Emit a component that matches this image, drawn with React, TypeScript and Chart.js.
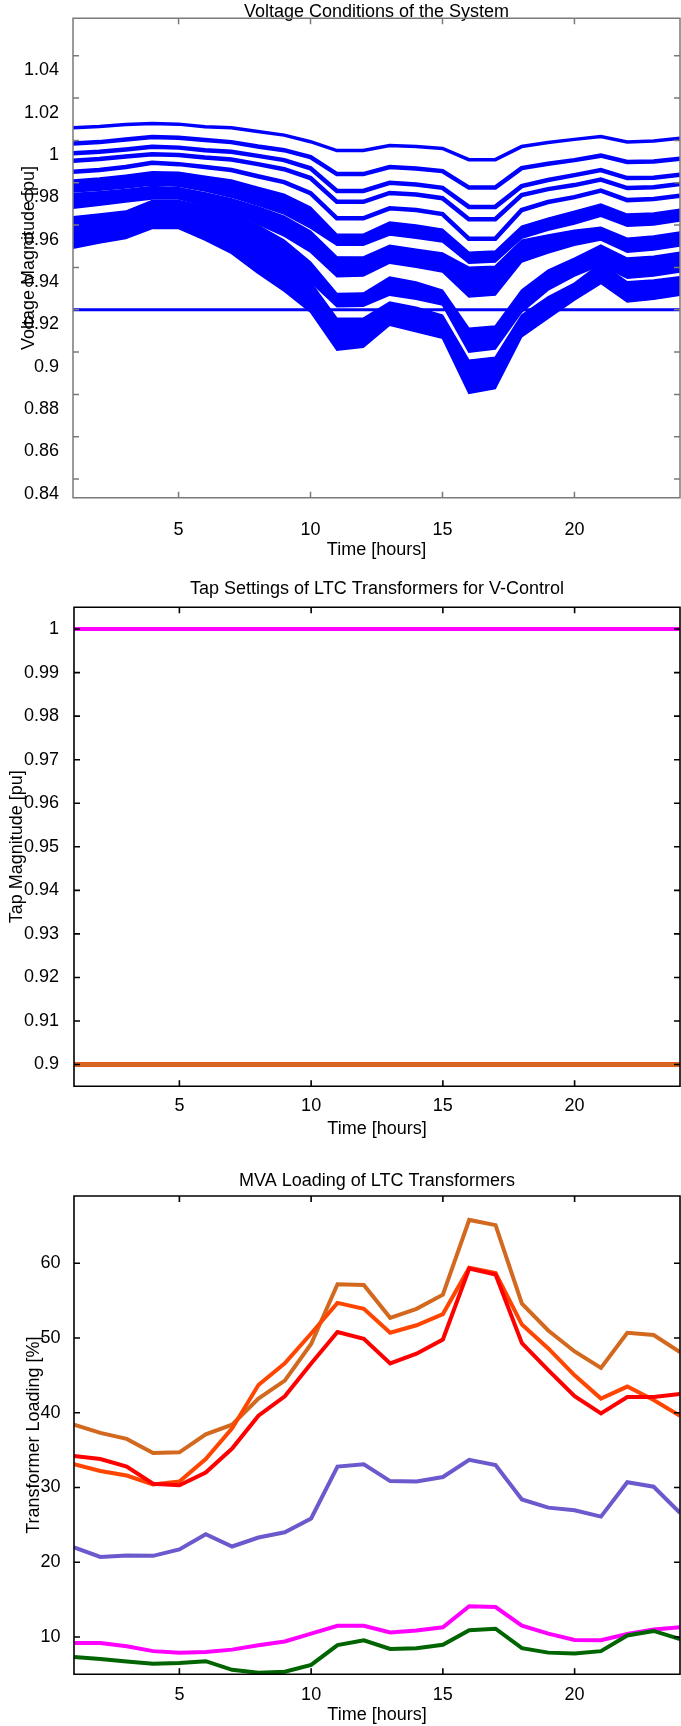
import React, { useEffect, useRef } from 'react';
import { Chart, registerables } from 'chart.js';

Chart.register(...registerables);

const FONT_FAMILY = "'Liberation Sans', Arial, Helvetica, sans-serif";

// ---------- shared axis data ----------
const HOURS = [1, 2, 3, 4, 5, 6, 7, 8, 9, 10, 11, 12, 13, 14, 15, 16, 17, 18, 19, 20, 21, 22, 23, 24];
const HOUR_TICKS = [5, 10, 15, 20];
const VOLTAGE_TICKS = [0.84, 0.86, 0.88, 0.9, 0.92, 0.94, 0.96, 0.98, 1, 1.02, 1.04];
const TAP_TICKS = [0.9, 0.91, 0.92, 0.93, 0.94, 0.95, 0.96, 0.97, 0.98, 0.99, 1];
const LOADING_TICKS = [10, 20, 30, 40, 50, 60];

// ---------- chart 1: bus voltages [pu] ----------
const voltageLimit = [0.92, 0.92, 0.92, 0.92, 0.92, 0.92, 0.92, 0.92, 0.92, 0.92, 0.92, 0.92, 0.92, 0.92, 0.92, 0.92, 0.92, 0.92, 0.92, 0.92, 0.92, 0.92, 0.92, 0.92];
const busLine1 = [1.0060, 1.0066, 1.0075, 1.0080, 1.0077, 1.0065, 1.0060, 1.0042, 1.0025, 0.9994, 0.9952, 0.9952, 0.9976, 0.9971, 0.9962, 0.9909, 0.9909, 0.9971, 0.9990, 1.0005, 1.0018, 0.9993, 0.9997, 1.0010];
const busLine2 = [0.9986, 0.9992, 1.0004, 1.0016, 1.0013, 1.0002, 0.9992, 0.9971, 0.9954, 0.9921, 0.9841, 0.9841, 0.9874, 0.9867, 0.9855, 0.9777, 0.9777, 0.9869, 0.9890, 0.9907, 0.9928, 0.9898, 0.9900, 0.9914];
const busLine3 = [0.9939, 0.9946, 0.9957, 0.9970, 0.9966, 0.9954, 0.9946, 0.9927, 0.9907, 0.9868, 0.9761, 0.9761, 0.9800, 0.9792, 0.9776, 0.9686, 0.9686, 0.9784, 0.9813, 0.9836, 0.9860, 0.9822, 0.9824, 0.9838];
const busLine4 = [0.9904, 0.9912, 0.9924, 0.9935, 0.9931, 0.9919, 0.9910, 0.9888, 0.9864, 0.9822, 0.9710, 0.9710, 0.9752, 0.9744, 0.9727, 0.9628, 0.9628, 0.9742, 0.9770, 0.9789, 0.9815, 0.9775, 0.9779, 0.9794];
const busLine5 = [0.9852, 0.9860, 0.9874, 0.9894, 0.9888, 0.9874, 0.9860, 0.9831, 0.9803, 0.9751, 0.9632, 0.9632, 0.9679, 0.9671, 0.9652, 0.9535, 0.9535, 0.9671, 0.9709, 0.9732, 0.9763, 0.9718, 0.9723, 0.9739];
// dense bus groups: upper and lower envelopes
const groupA1Top = [0.9813, 0.9822, 0.9836, 0.9852, 0.9850, 0.9831, 0.9813, 0.9779, 0.9746, 0.9685, 0.9557, 0.9557, 0.9614, 0.9600, 0.9581, 0.9472, 0.9477, 0.9595, 0.9633, 0.9666, 0.9699, 0.9652, 0.9657, 0.9675];
const groupA1Bottom = [0.9756, 0.9765, 0.9775, 0.9789, 0.9784, 0.9761, 0.9732, 0.9694, 0.9652, 0.9586, 0.9505, 0.9505, 0.9553, 0.9538, 0.9520, 0.9420, 0.9425, 0.9538, 0.9576, 0.9605, 0.9642, 0.9595, 0.9600, 0.9619];
const groupA2Top = [0.9749, 0.9758, 0.9768, 0.9782, 0.9777, 0.9753, 0.9725, 0.9687, 0.9642, 0.9572, 0.9450, 0.9449, 0.9505, 0.9486, 0.9468, 0.9401, 0.9406, 0.9529, 0.9553, 0.9576, 0.9590, 0.9538, 0.9548, 0.9567];
const groupA2Bottom = [0.9680, 0.9694, 0.9709, 0.9723, 0.9723, 0.9694, 0.9657, 0.9605, 0.9548, 0.9472, 0.9356, 0.9359, 0.9420, 0.9401, 0.9378, 0.9260, 0.9269, 0.9425, 0.9468, 0.9505, 0.9529, 0.9472, 0.9482, 0.9501];
const groupB1Top = [0.9639, 0.9652, 0.9666, 0.9716, 0.9716, 0.9690, 0.9652, 0.9600, 0.9529, 0.9425, 0.9277, 0.9279, 0.9354, 0.9331, 0.9293, 0.9113, 0.9123, 0.9293, 0.9387, 0.9444, 0.9505, 0.9444, 0.9453, 0.9472];
const groupB1Bottom = [0.9567, 0.9581, 0.9595, 0.9642, 0.9647, 0.9600, 0.9548, 0.9482, 0.9425, 0.9331, 0.9214, 0.9217, 0.9269, 0.9250, 0.9222, 0.9000, 0.9014, 0.9189, 0.9293, 0.9359, 0.9411, 0.9349, 0.9359, 0.9378];
const groupB2Top = [0.9572, 0.9586, 0.9605, 0.9652, 0.9652, 0.9614, 0.9567, 0.9482, 0.9425, 0.9331, 0.9160, 0.9160, 0.9236, 0.9212, 0.9175, 0.8962, 0.8976, 0.9175, 0.9261, 0.9326, 0.9420, 0.9332, 0.9340, 0.9356];
const groupB2Bottom = [0.9491, 0.9515, 0.9537, 0.9584, 0.9584, 0.9529, 0.9466, 0.9373, 0.9288, 0.9189, 0.9009, 0.9023, 0.9127, 0.9096, 0.9065, 0.8805, 0.8828, 0.9072, 0.9159, 0.9246, 0.9324, 0.9237, 0.9249, 0.9269];

// ---------- chart 2: tap settings [pu] ----------
const tapT1 = [0.9, 0.9, 0.9, 0.9, 0.9, 0.9, 0.9, 0.9, 0.9, 0.9, 0.9, 0.9, 0.9, 0.9, 0.9, 0.9, 0.9, 0.9, 0.9, 0.9, 0.9, 0.9, 0.9, 0.9];
const tapT2 = [0.9, 0.9, 0.9, 0.9, 0.9, 0.9, 0.9, 0.9, 0.9, 0.9, 0.9, 0.9, 0.9, 0.9, 0.9, 0.9, 0.9, 0.9, 0.9, 0.9, 0.9, 0.9, 0.9, 0.9];
const tapT3 = [0.9, 0.9, 0.9, 0.9, 0.9, 0.9, 0.9, 0.9, 0.9, 0.9, 0.9, 0.9, 0.9, 0.9, 0.9, 0.9, 0.9, 0.9, 0.9, 0.9, 0.9, 0.9, 0.9, 0.9];
const tapT4 = [0.9, 0.9, 0.9, 0.9, 0.9, 0.9, 0.9, 0.9, 0.9, 0.9, 0.9, 0.9, 0.9, 0.9, 0.9, 0.9, 0.9, 0.9, 0.9, 0.9, 0.9, 0.9, 0.9, 0.9];
const tapT5 = [1, 1, 1, 1, 1, 1, 1, 1, 1, 1, 1, 1, 1, 1, 1, 1, 1, 1, 1, 1, 1, 1, 1, 1];
const tapT6 = [1, 1, 1, 1, 1, 1, 1, 1, 1, 1, 1, 1, 1, 1, 1, 1, 1, 1, 1, 1, 1, 1, 1, 1];

// ---------- chart 3: MVA loading [%] ----------
const loadT1 = [38.4, 37.3, 36.5, 34.6, 34.7, 37.1, 38.4, 41.9, 44.3, 49.2, 57.2, 57.1, 52.7, 53.9, 55.8, 65.8, 65.1, 54.6, 51.0, 48.2, 46.0, 50.7, 50.4, 48.1];
const loadT2 = [33.1, 32.2, 31.6, 30.4, 30.8, 33.8, 37.9, 43.7, 46.6, 50.6, 54.7, 53.9, 50.7, 51.7, 53.2, 59.4, 58.7, 51.8, 48.6, 45.0, 41.9, 43.5, 41.7, 39.6];
const loadT3 = [34.2, 33.8, 32.8, 30.5, 30.3, 32.0, 35.2, 39.6, 42.2, 46.6, 50.8, 49.9, 46.6, 47.9, 49.8, 59.3, 58.5, 49.3, 45.7, 42.2, 39.9, 42.1, 42.1, 42.5];
const loadT4 = [22.0, 20.7, 20.9, 20.85, 21.7, 23.75, 22.1, 23.3, 24.0, 25.85, 32.8, 33.1, 30.85, 30.8, 31.4, 33.7, 33.0, 28.4, 27.3, 26.96, 26.1, 30.7, 30.1, 26.6];
const loadT5 = [9.2, 9.2, 8.75, 8.1, 7.9, 8.0, 8.3, 8.9, 9.4, 10.45, 11.5, 11.5, 10.6, 10.85, 11.3, 14.1, 14.0, 11.5, 10.45, 9.6, 9.55, 10.4, 11.0, 11.3];
const loadT6 = [7.3, 7.05, 6.7, 6.4, 6.5, 6.75, 5.6, 5.2, 5.35, 6.25, 8.9, 9.55, 8.4, 8.5, 8.95, 10.9, 11.1, 8.5, 7.9, 7.8, 8.1, 10.2, 10.8, 9.7];

const BLUE = '#0000ff';
const C_CHOC = '#d2691e';
const C_ORANGE = '#ff4500';
const C_RED = '#ff0000';
const C_SLATE = '#6a5acd';
const C_MAGENTA = '#ff00ff';
const C_GREEN = '#006400';

const pts = (ys: number[]) => HOURS.map((h, i) => ({ x: h, y: ys[i] }));

const line = (ys: number[], color: string, width: number, extra: any = {}) => ({
  data: pts(ys),
  borderColor: color,
  backgroundColor: color,
  borderWidth: width,
  pointRadius: 0,
  tension: 0,
  fill: false,
  ...extra,
});

const fmt = (v: any) => String(parseFloat(Number(v).toFixed(2)));

const framePlugin = {
  id: 'frame',
  afterDatasetsDraw(chart: any, _args: any, opts: any) {
    const { ctx, chartArea } = chart;
    const { left, top, right, bottom } = chartArea;
    const xs = chart.scales.x;
    const ys = chart.scales.y;
    const len = 6;
    ctx.save();
    ctx.strokeStyle = opts.color;
    ctx.lineWidth = opts.width;
    ctx.beginPath();
    ctx.rect(left, top, right - left, bottom - top);
    for (const t of xs.ticks) {
      const px = xs.getPixelForValue(t.value);
      ctx.moveTo(px, bottom);
      ctx.lineTo(px, bottom - len);
      ctx.moveTo(px, top);
      ctx.lineTo(px, top + len);
    }
    for (const t of ys.ticks) {
      const py = ys.getPixelForValue(t.value);
      ctx.moveTo(left, py);
      ctx.lineTo(left + len, py);
      ctx.moveTo(right, py);
      ctx.lineTo(right - len, py);
    }
    ctx.stroke();
    ctx.restore();
  },
};

function makeOptions(c: any) {
  const font = { family: FONT_FAMILY, size: 18, weight: 'normal' as const };
  return {
    responsive: false,
    maintainAspectRatio: false,
    animation: false as const,
    events: [] as any[],
    layout: { padding: { left: 0, right: 1, top: 0, bottom: 0 } },
    plugins: {
      legend: { display: false },
      tooltip: { enabled: false },
      title: {
        display: true,
        text: c.title,
        fullSize: false,
        color: '#000',
        font: { ...font, lineHeight: c.titleLH },
        padding: { top: c.titlePadTop, bottom: c.titlePadBottom },
      },
      frame: { color: c.frameColor, width: c.frameWidth },
    },
    scales: {
      x: {
        type: 'linear',
        min: 1,
        max: 24,
        grid: { display: false },
        border: { display: false },
        ticks: { color: '#000', font, padding: c.xTickPad, autoSkip: false, maxRotation: 0, callback: (v: any) => String(v) },
        afterBuildTicks: (s: any) => { s.ticks = HOUR_TICKS.map((v) => ({ value: v })); },
        afterFit: (s: any) => { s.height = c.xHeight; },
        title: { display: true, text: 'Time [hours]', color: '#000', font: { ...font, lineHeight: 1.2 }, padding: { top: 0, bottom: c.xTitlePadBottom } },
      },
      y: {
        type: 'linear',
        min: c.yMin,
        max: c.yMax,
        grid: { display: false },
        border: { display: false },
        ticks: { color: '#000', font, padding: c.yTickPad, labelOffset: c.yLabelOffset, autoSkip: false, callback: fmt },
        afterBuildTicks: (s: any) => { s.ticks = c.yTicks.map((v: number) => ({ value: v })); },
        afterFit: (s: any) => { s.width = c.yWidth; },
        title: { display: true, text: c.yTitle, color: '#000', font: { ...font, lineHeight: 1.2 }, padding: { top: c.yTitlePad, bottom: 0 } },
      },
    },
  };
}

function voltageConfig() {
  return {
    type: 'line',
    data: {
      datasets: [
        line(voltageLimit, BLUE, 3),
        line(busLine1, BLUE, 3.5),
        line(busLine2, BLUE, 4.5),
        line(busLine3, BLUE, 4.5),
        line(busLine4, BLUE, 4.5),
        line(busLine5, BLUE, 4.5),
        line(groupA1Top, BLUE, 1.5, { fill: '+1' }),
        line(groupA1Bottom, BLUE, 1.5),
        line(groupA2Top, BLUE, 1.5, { fill: '+1' }),
        line(groupA2Bottom, BLUE, 1.5),
        line(groupB1Top, BLUE, 1.5, { fill: '+1' }),
        line(groupB1Bottom, BLUE, 1.5),
        line(groupB2Top, BLUE, 1.5, { fill: '+1' }),
        line(groupB2Bottom, BLUE, 1.5),
      ],
    },
    options: makeOptions({
      title: 'Voltage Conditions of the System',
      titleLH: 0.8, titlePadTop: 4.6, titlePadBottom: -0.7,
      frameColor: '#7a7a7a', frameWidth: 1.5,
      xTickPad: 14, xHeight: 67.3, xTitlePadBottom: 4.2,
      yMin: 0.8312, yMax: 1.0577, yTicks: VOLTAGE_TICKS, yTickPad: 6, yLabelOffset: 14.5,
      yWidth: 73, yTitle: 'Voltage Magnitude [pu]', yTitlePad: 18.2,
    }),
    plugins: [framePlugin],
  };
}

function tapConfig() {
  return {
    type: 'line',
    data: {
      datasets: [
        line(tapT1, C_CHOC, 4),
        line(tapT5, C_MAGENTA, 4),
        line(tapT2, C_ORANGE, 4.5),
        line(tapT3, C_RED, 4),
        line(tapT4, C_SLATE, 4),
        line(tapT6, C_GREEN, 4),
      ],
    },
    options: makeOptions({
      title: 'Tap Settings of LTC Transformers for V-Control',
      titleLH: 1.2, titlePadTop: 13, titlePadBottom: 7.7,
      frameColor: '#000', frameWidth: 1.6,
      xTickPad: 1, xHeight: 58.7, xTitlePadBottom: 5.5,
      yMin: 0.895, yMax: 1.005, yTicks: TAP_TICKS, yTickPad: 7, yLabelOffset: 0,
      yWidth: 74, yTitle: 'Tap Magnitude [pu]', yTitlePad: 6.7,
    }),
    plugins: [framePlugin],
  };
}

function loadingConfig() {
  return {
    type: 'line',
    data: {
      datasets: [
        line(loadT6, C_GREEN, 4),
        line(loadT5, C_MAGENTA, 4),
        line(loadT4, C_SLATE, 4),
        line(loadT3, C_RED, 4),
        line(loadT2, C_ORANGE, 4),
        line(loadT1, C_CHOC, 4),
      ],
    },
    options: makeOptions({
      title: 'MVA Loading of LTC Transformers',
      titleLH: 1.2, titlePadTop: 25.5, titlePadBottom: 3.9,
      frameColor: '#000', frameWidth: 1.6,
      xTickPad: 2.4, xHeight: 51.7, xTitlePadBottom: 0,
      yMin: 5, yMax: 69, yTicks: LOADING_TICKS, yTickPad: 5.5, yLabelOffset: 0,
      yWidth: 74, yTitle: 'Transformer Loading [%]', yTitlePad: 23.2,
    }),
    plugins: [framePlugin],
  };
}

function ChartCanvas({ make, top, height }: { make: () => any; top: number; height: number }) {
  const ref = useRef<HTMLCanvasElement>(null);
  useEffect(() => {
    if (!ref.current) return;
    const chart = new Chart(ref.current, make());
    return () => chart.destroy();
  }, []);
  return (
    <canvas
      ref={ref}
      width={681}
      height={height}
      style={{ position: 'absolute', left: 0, top, width: 681, height, display: 'block' }}
    />
  );
}

export default function App() {
  return (
    <div style={{ position: 'absolute', left: 0, top: 0, width: 681, height: 1726, background: '#fff', overflow: 'hidden' }}>
      <ChartCanvas make={voltageConfig} top={0} height={565} />
      <ChartCanvas make={tapConfig} top={565} height={580} />
      <ChartCanvas make={loadingConfig} top={1145} height={581} />
    </div>
  );
}
